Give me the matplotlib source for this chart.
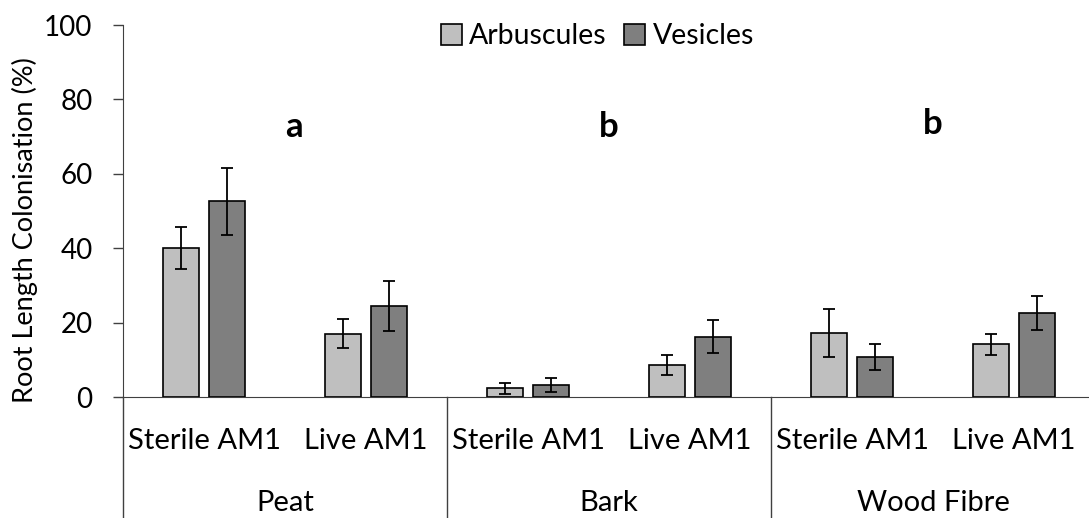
import matplotlib.pyplot as plt
import matplotlib.transforms as mtransforms
import numpy as np

plt.rcParams['font.family'] = ['Lato', 'DejaVu Sans']

# treatments inside each substrate, and the substrates
treatments = ['Sterile AM1', 'Live AM1']
substrates = ['Peat', 'Bark', 'Wood Fibre']
group_letters = ['a', 'b', 'b']
letter_x = [0.557, 2.496, 4.5]
letter_y = [72.7, 72.7, 73.5]

# mean root length colonisation (%) and error
arbuscules = [40.1, 17.1, 2.4, 8.7, 17.3, 14.2]
arbuscules_err = [5.6, 3.9, 1.45, 2.75, 6.45, 2.8]
vesicles = [52.6, 24.6, 3.4, 16.3, 10.8, 22.7]
vesicles_err = [8.9, 6.7, 1.9, 4.35, 3.55, 4.6]

W, H = 1089, 518
fig = plt.figure(figsize=(W / 100, H / 100), dpi=100)
# plot area runs a little past the right edge of the figure
ax = fig.add_axes([123 / W, (H - 397.3) / H, 972 / W, 372.3 / H])

x = np.arange(len(arbuscules))
bw = 0.225
off = 0.142
err_kw = dict(ecolor='black', elinewidth=1.3, capsize=4.5, capthick=1.3)
ax.bar(x - off, arbuscules, bw, yerr=arbuscules_err, color='#BFBFBF',
       edgecolor='black', linewidth=1.2, label='Arbuscules', error_kw=err_kw, zorder=3)
ax.bar(x + off, vesicles, bw, yerr=vesicles_err, color='#7F7F7F',
       edgecolor='black', linewidth=1.2, label='Vesicles', error_kw=err_kw, zorder=3)

ax.set_xlim(-0.5, 5.5)
ax.set_ylim(0, 100)
ax.set_yticks(range(0, 101, 20))
ax.tick_params(axis='y', labelsize=20, length=7, width=1, pad=15, color='#404040')
ax.set_ylabel('Root Length Colonisation (%)', fontsize=19.5)
ax.yaxis.set_label_coords(-0.087, 0.45)

ax.set_xticks(x)
ax.set_xticklabels(treatments * len(substrates))
ax.tick_params(axis='x', length=0, labelsize=21, pad=22)

for s in ['top', 'right']:
    ax.spines[s].set_visible(False)
ax.spines['left'].set_color('#404040')
ax.spines['bottom'].set_color('#404040')

# substrate labels and separators under the axis
trans = mtransforms.blended_transform_factory(ax.transData, ax.transAxes)
for i, name in enumerate(substrates):
    ax.text(2 * i + 0.5, -0.283, name, transform=trans, ha='center', va='center', fontsize=21)
for xs in [-0.5, 1.5, 3.5]:
    ax.plot([xs, xs], [0, -0.4], transform=trans, color='#404040', lw=1, clip_on=False)

for lx, ly, lt in zip(letter_x, letter_y, group_letters):
    ax.text(lx, ly, lt, ha='center', va='center', fontsize=25, fontweight='bold')

ax.legend(loc='upper center', bbox_to_anchor=(0.488, 1.035), ncol=2, frameon=False,
          fontsize=20.5, handlelength=0.75, handleheight=0.75, handletextpad=0.25,
          columnspacing=0.6, borderaxespad=0)

fig.savefig('out.png', dpi=100)
